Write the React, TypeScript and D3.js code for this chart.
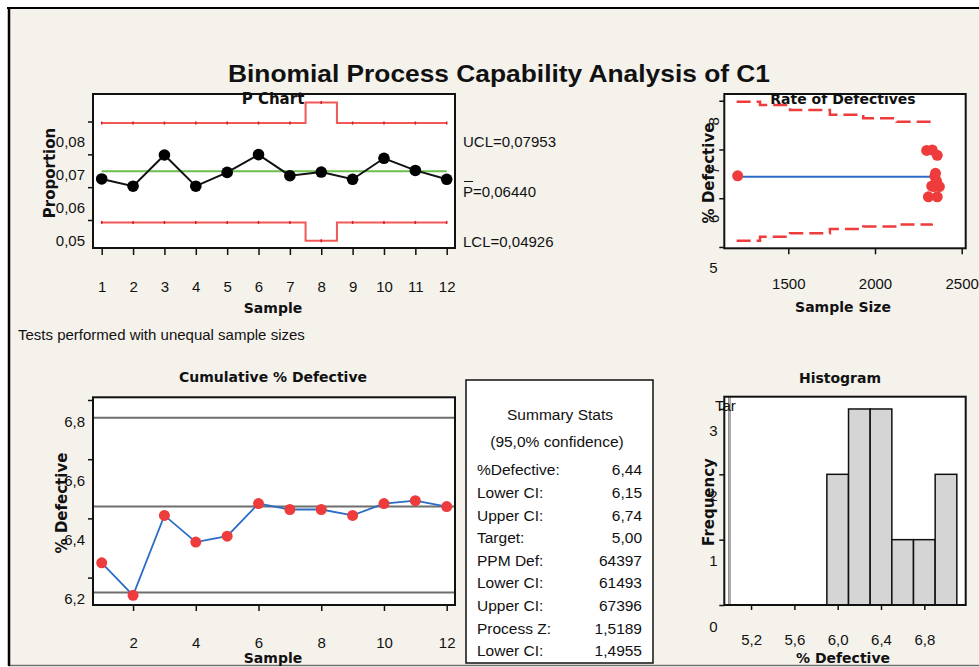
import React, { useEffect, useRef } from 'react';
import * as d3 from 'd3';

// P chart data
const samples = [1, 2, 3, 4, 5, 6, 7, 8, 9, 10, 11, 12];
const proportions = [0.0625, 0.0603, 0.0698, 0.0603, 0.0645, 0.0699, 0.0635, 0.0646, 0.0624, 0.0688, 0.0651, 0.0624];
const sampleSizes = [2327, 2308, 2298, 2359, 2345, 2330, 2355, 1208, 2371, 2359, 2349, 2340];
const uclValues = [0.07953, 0.07953, 0.07953, 0.07953, 0.07953, 0.07953, 0.07953, 0.0858, 0.07953, 0.07953, 0.07953, 0.07953];
const lclValues = [0.04926, 0.04926, 0.04926, 0.04926, 0.04926, 0.04926, 0.04926, 0.0437, 0.04926, 0.04926, 0.04926, 0.04926];
const pBar = 0.0644;
const pTicks = [0.05, 0.06, 0.07, 0.08];

// Cumulative % defective
const cumulativePct = [6.25, 6.14, 6.41, 6.32, 6.34, 6.45, 6.43, 6.43, 6.41, 6.45, 6.46, 6.44];
const ciLines = [6.74, 6.44, 6.15];
const cumTicks = [6.2, 6.4, 6.6, 6.8];
const cumXTicks = [2, 4, 6, 8, 10, 12];

// Rate of defectives limits
const limitSizes = [1202, 1337, 1510, 1740, 1932, 2125, 2327];
const upperLimitPct = [7.98, 7.91, 7.81, 7.71, 7.64, 7.57, 7.51];
const lowerLimitPct = [5.13, 5.21, 5.28, 5.37, 5.42, 5.46, 5.48];
const rateYTicks = [5, 6, 7, 8];
const rateXTicks = [1500, 2000, 2500];

// Histogram
const binEdges = [5.9, 6.1, 6.3, 6.5, 6.7, 6.9, 7.1];
const histXTicks = [5.2, 5.6, 6.0, 6.4, 6.8];
const histYTicks = [0, 1, 2, 3];
const targetPct = 5.0;

// Summary stats
const summaryLabels = ['%Defective:', 'Lower CI:', 'Upper CI:', 'Target:', 'PPM Def:', 'Lower CI:', 'Upper CI:', 'Process Z:', 'Lower CI:'];
const summaryValues = ['6,44', '6,15', '6,74', '5,00', '64397', '61493', '67396', '1,5189', '1,4955'];

const locale = d3.formatLocale({ decimal: ',', thousands: '.', grouping: [3], currency: ['', ''] });

const REG = '"Liberation Sans", Arial, sans-serif';
const BOLD = '"DejaVu Sans", Verdana, sans-serif';
const RED = '#ee3b3b';

const App = () => {
  const svgRef = useRef<SVGSVGElement>(null);

  useEffect(() => {
    if (!svgRef.current) return;
    const svg = d3.select(svgRef.current);
    svg.selectAll('*').remove();

    // background + outer border
    svg.append('rect').attr('width', 979).attr('height', 667).attr('fill', '#fff');
    svg.append('rect').attr('x', 8).attr('y', 8).attr('width', 975).attr('height', 657).attr('fill', '#f5f2ec');
    svg.append('line').attr('x1', 8).attr('x2', 979).attr('y1', 665.5).attr('y2', 665.5)
      .attr('stroke', '#707070').attr('stroke-width', 1.5);

    const text = (x, y, str, opts: any = {}) =>
      svg.append('text')
        .attr('x', x).attr('y', y).attr('dy', '0.35em')
        .attr('text-anchor', opts.anchor || 'middle')
        .attr('transform', opts.rotate ? `rotate(-90,${x},${y})` : null)
        .style('font-family', opts.bold ? BOLD : REG)
        .style('font-weight', opts.bold ? 'bold' : 'normal')
        .style('font-size', `${opts.size || 15}px`)
        .attr('fill', '#111')
        .text(str);

    const frame = (x0, x1, y0, y1) => svg.append('rect')
      .attr('x', x0).attr('y', y0).attr('width', x1 - x0).attr('height', y1 - y0)
      .attr('fill', '#fff');
    const frameBorder = (x0, x1, y0, y1) => svg.append('rect')
      .attr('x', x0).attr('y', y0).attr('width', x1 - x0).attr('height', y1 - y0)
      .attr('fill', 'none').attr('stroke', '#111').attr('stroke-width', 2);

    // tick labels sit a little below their ticks, as in the original
    const styleAxis = (g, offset, fmt) => {
      g.select('.domain').remove();
      g.selectAll('.tick line').attr('stroke', '#111').attr('stroke-width', 1.5);
      g.selectAll('.tick text')
        .attr('fill', '#111')
        .style('font-family', REG)
        .style('font-size', '15px')
        .attr('dy', '0.35em')
        .attr('y', offset)
        .text(fmt);
    };

    svg.append('text')
      .attr('x', 499).attr('y', 82)
      .attr('text-anchor', 'middle')
      .attr('textLength', 542).attr('lengthAdjust', 'spacingAndGlyphs')
      .style('font-family', REG).style('font-weight', 'bold').style('font-size', '24px')
      .attr('fill', '#111')
      .text('Binomial Process Capability Analysis of C1');

    // ---------------- P chart ----------------
    const pL = 93, pR = 455, pT = 94, pB = 248;
    const xP = d3.scaleLinear().domain([1, 12]).range([101.7, 446.7]);
    const yP = d3.scaleLinear().domain([0.04147, 0.08838]).range([pB, pT]);
    frame(pL, pR, pT, pB);

    const stepLine = d3.line<number>().x((d, i) => xP(samples[i])).y(d => yP(d)).curve(d3.curveStep);
    [uclValues, lclValues].forEach(vals => {
      svg.append('path').attr('d', stepLine(vals)).attr('fill', 'none')
        .attr('stroke', RED).attr('stroke-opacity', 0.85).attr('stroke-width', 2);
      svg.selectAll(null).data(samples).enter().append('line')
        .attr('x1', d => xP(d)).attr('x2', d => xP(d))
        .attr('y1', (d, i) => yP(vals[i]) - 1.5).attr('y2', (d, i) => yP(vals[i]) + 1.5)
        .attr('stroke', '#d02020').attr('stroke-width', 1.5);
    });
    svg.append('line').attr('x1', xP(1)).attr('x2', xP(12))
      .attr('y1', yP(pBar) - 1.5).attr('y2', yP(pBar) - 1.5)
      .attr('stroke', '#6cbf4a').attr('stroke-width', 2);
    svg.append('path')
      .attr('d', d3.line<number>().x((d, i) => xP(samples[i])).y(d => yP(d))(proportions))
      .attr('fill', 'none').attr('stroke', '#111').attr('stroke-width', 2);
    svg.selectAll(null).data(proportions).enter().append('circle')
      .attr('cx', (d, i) => xP(samples[i])).attr('cy', d => yP(d)).attr('r', 5.8).attr('fill', '#000');
    frameBorder(pL, pR, pT, pB);

    const pLeft = svg.append('g').attr('transform', `translate(${pL},0)`)
      .call(d3.axisLeft(yP).tickValues(pTicks).tickSize(5).tickPadding(3));
    styleAxis(pLeft, 20, d => locale.format('.2f')(d));
    const pBottom = svg.append('g').attr('transform', `translate(0,${pB})`)
      .call(d3.axisBottom(xP).tickValues(samples).tickSize(7));
    styleAxis(pBottom, 38.7, d => String(d));

    text(273, 99, 'P Chart', { bold: true });
    text(273, 308, 'Sample', { bold: true, size: 14 });
    text(50, 173, 'Proportion', { bold: true, rotate: true });
    text(463, 142, 'UCL=' + locale.format('.5f')(uclValues[0]), { anchor: 'start' });
    text(463, 192, 'P=' + locale.format('.5f')(pBar), { anchor: 'start' });
    svg.append('line').attr('x1', 464).attr('x2', 473).attr('y1', 181.5).attr('y2', 181.5)
      .attr('stroke', '#111').attr('stroke-width', 1);
    text(463, 242, 'LCL=' + locale.format('.5f')(lclValues[0]), { anchor: 'start' });

    text(18, 335, 'Tests performed with unequal sample sizes', { anchor: 'start' });

    // ---------------- Rate of Defectives ----------------
    const rL = 724.3, rR = 965.7, rT = 94, rB = 248.3;
    const xR = d3.scaleLinear().domain([1131, 2523]).range([rL, rR]);
    const yR = d3.scaleLinear().domain([4.973, 8.138]).range([rB, rT]);
    frame(rL, rR, rT, rB);
    const limLine = d3.line<number>().x((d, i) => xR(limitSizes[i])).y(d => yR(d)).curve(d3.curveStepAfter);
    [upperLimitPct, lowerLimitPct].forEach(vals => {
      svg.append('path').attr('d', limLine(vals)).attr('fill', 'none')
        .attr('stroke', RED).attr('stroke-width', 2.5).attr('stroke-dasharray', '14,6');
    });
    const nExt = d3.extent(sampleSizes) as [number, number];
    svg.append('line').attr('x1', xR(nExt[0])).attr('x2', xR(2325))
      .attr('y1', yR(pBar * 100)).attr('y2', yR(pBar * 100))
      .attr('stroke', '#2a6cc6').attr('stroke-width', 2);
    svg.selectAll(null).data(proportions).enter().append('circle')
      .attr('cx', (d, i) => xR(sampleSizes[i])).attr('cy', d => yR(d * 100)).attr('r', 5.5).attr('fill', RED);
    frameBorder(rL, rR, rT, rB);

    const rLeft = svg.append('g').attr('transform', `translate(${rL},0)`)
      .call(d3.axisLeft(yR).tickValues(rateYTicks).tickSize(5).tickFormat(d3.format('d')));
    rLeft.select('.domain').remove();
    rLeft.selectAll('.tick line').attr('stroke', '#111').attr('stroke-width', 1.5);
    rLeft.selectAll('.tick text')
      .attr('x', 0).attr('y', 0).attr('dy', '0.35em')
      .attr('text-anchor', 'middle')
      .attr('transform', d => d > 5 ? 'translate(-11,20) rotate(-90)' : 'translate(-11,20)')
      .attr('fill', '#111').style('font-family', REG).style('font-size', '15px');
    const rBottom = svg.append('g').attr('transform', `translate(0,${rB})`)
      .call(d3.axisBottom(xR).tickValues(rateXTicks).tickSize(6));
    styleAxis(rBottom, 35, d => String(d));

    text(843, 99, 'Rate of Defectives', { bold: true, size: 14 });
    text(843, 307, 'Sample Size', { bold: true, size: 14 });
    text(709, 173, '% Defective', { bold: true, rotate: true });

    // ---------------- Cumulative % Defective ----------------
    const cL = 93, cR = 455, cT = 397.3, cB = 605;
    const xC = d3.scaleLinear().domain([1, 12]).range([101.7, 446.7]);
    const yC = d3.scaleLinear().domain([6.1074, 6.8091]).range([cB, cT]);
    frame(cL, cR, cT, cB);
    svg.selectAll(null).data(ciLines).enter().append('line')
      .attr('x1', cL).attr('x2', cR).attr('y1', d => yC(d)).attr('y2', d => yC(d))
      .attr('stroke', '#6e6e6e').attr('stroke-width', 2);
    svg.append('path')
      .attr('d', d3.line<number>().x((d, i) => xC(samples[i])).y(d => yC(d))(cumulativePct))
      .attr('fill', 'none').attr('stroke', '#2a6cc6').attr('stroke-width', 1.8);
    svg.selectAll(null).data(cumulativePct).enter().append('circle')
      .attr('cx', (d, i) => xC(samples[i])).attr('cy', d => yC(d)).attr('r', 5.5).attr('fill', RED);
    frameBorder(cL, cR, cT, cB);

    const cLeft = svg.append('g').attr('transform', `translate(${cL},0)`)
      .call(d3.axisLeft(yC).tickValues(cumTicks).tickSize(5).tickPadding(3));
    styleAxis(cLeft, 21, d => locale.format('.1f')(d));
    const cBottom = svg.append('g').attr('transform', `translate(0,${cB})`)
      .call(d3.axisBottom(xC).tickValues(cumXTicks).tickSize(6));
    styleAxis(cBottom, 38, d => String(d));

    text(273, 377, 'Cumulative % Defective', { bold: true, size: 14 });
    text(62, 503, '% Defective', { bold: true, rotate: true });
    text(273, 658, 'Sample', { bold: true, size: 14 });

    // ---------------- Summary Stats ----------------
    svg.append('rect').attr('x', 466).attr('y', 380).attr('width', 187).attr('height', 283)
      .attr('fill', '#fff').attr('stroke', '#111').attr('stroke-width', 1.5);
    text(560, 415, 'Summary Stats', { size: 15.5 });
    text(557, 442, '(95,0% confidence)', { size: 15.5 });
    summaryLabels.forEach((lab, i) => {
      const y = 470 + i * 22.6;
      text(477, y, lab, { anchor: 'start', size: 15.5 });
      text(642, y, summaryValues[i], { anchor: 'end', size: 15.5 });
    });

    // ---------------- Histogram ----------------
    const hL = 724.3, hR = 965.7, hT = 396.7, hB = 605;
    const xH = d3.scaleLinear().domain([4.953, 7.182]).range([hL, hR]);
    const yH = d3.scaleLinear().domain([0, 3.188]).range([hB, hT]);
    frame(hL, hR, hT, hB);
    const bins = d3.bin().domain([binEdges[0], binEdges[binEdges.length - 1]]).thresholds(binEdges.slice(1, -1))(proportions.map(p => p * 100));
    svg.selectAll(null).data(bins).enter().append('rect')
      .attr('x', d => xH(d.x0)).attr('width', d => xH(d.x1) - xH(d.x0))
      .attr('y', d => yH(d.length)).attr('height', d => hB - yH(d.length))
      .attr('fill', '#d5d5d5').attr('stroke', '#111').attr('stroke-width', 1.5);
    svg.append('line').attr('x1', xH(targetPct)).attr('x2', xH(targetPct)).attr('y1', hT).attr('y2', hB)
      .attr('stroke', '#7a7a7a').attr('stroke-width', 2.5);
    svg.append('line').attr('x1', xH(targetPct)).attr('x2', xH(targetPct)).attr('y1', hT).attr('y2', hB)
      .attr('stroke', '#cfcfcf').attr('stroke-width', 0.7);
    frameBorder(hL, hR, hT, hB);
    text(715, 406, 'Tar', { anchor: 'start' });

    const hLeft = svg.append('g').attr('transform', `translate(${hL},0)`)
      .call(d3.axisLeft(yH).tickValues(histYTicks).tickSize(5).tickFormat(d3.format('d')));
    hLeft.select('.domain').remove();
    hLeft.selectAll('.tick line').attr('stroke', '#111').attr('stroke-width', 1.5);
    hLeft.selectAll('.tick text').attr('x', -11).attr('y', 21).attr('dy', '0.35em')
      .attr('text-anchor', 'middle')
      .attr('fill', '#111').style('font-family', REG).style('font-size', '15px');
    const hBottom = svg.append('g').attr('transform', `translate(0,${hB})`)
      .call(d3.axisBottom(xH).tickValues(histXTicks).tickSize(5));
    styleAxis(hBottom, 35, d => locale.format('.1f')(d));

    text(840, 378, 'Histogram', { bold: true, size: 14 });
    text(709, 502, 'Frequency', { bold: true, rotate: true });
    text(843, 658, '% Defective', { bold: true, size: 14 });

    // outer border lines
    svg.append('line').attr('x1', 7).attr('x2', 979).attr('y1', 8).attr('y2', 8)
      .attr('stroke', '#000').attr('stroke-width', 2);
    svg.append('line').attr('x1', 9).attr('x2', 9).attr('y1', 7).attr('y2', 666)
      .attr('stroke', '#000').attr('stroke-width', 2.5);
  }, []);

  return (
    <svg ref={svgRef} width={979} height={667}
      style={{ position: 'absolute', left: 0, top: 0, display: 'block' }} />
  );
};

export default App;
